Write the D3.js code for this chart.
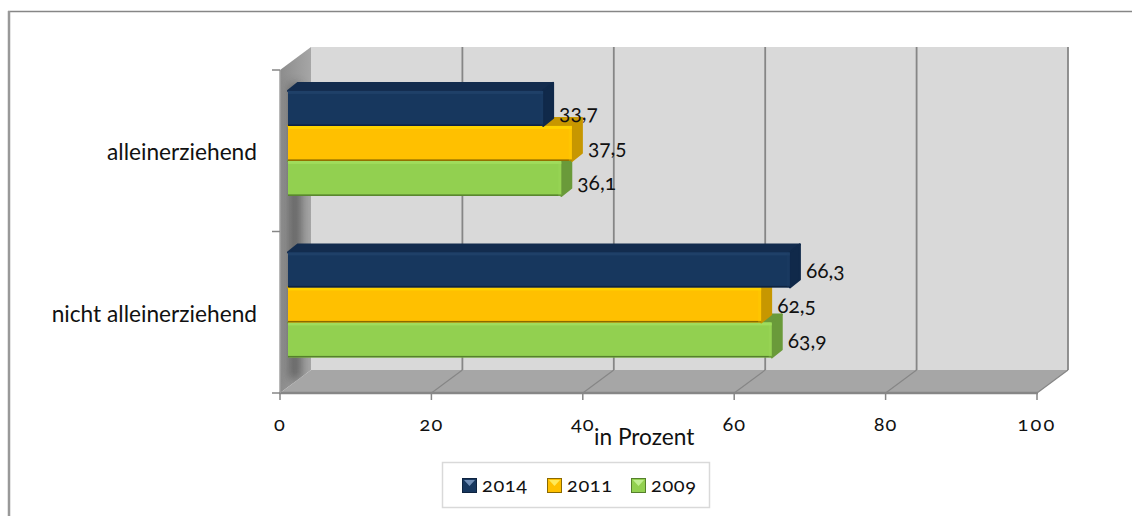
<!DOCTYPE html>
<html><head><meta charset="utf-8">
<script src="https://cdn.jsdelivr.net/npm/d3@7"></script>
<style>
html,body{margin:0;padding:0;background:#fff}
svg{display:block}
text{font-family:Lato,"Open Sans",sans-serif;fill:#111;font-feature-settings:"onum" 1}
</style></head><body><div id="c"></div>
<script>
const categories=["alleinerziehend","nicht alleinerziehend"];
const seriesNames=["2014","2011","2009"];
const v2014=[33.7,66.3];
const v2011=[37.5,62.5];
const v2009=[36.1,63.9];
const ticks=[0,20,40,60,80,100];
const values={"2014":v2014,"2011":v2011,"2009":v2009};
const fmt=v=>String(v.toFixed(1)).replace(".",",");
const colors={"2014":{m:"#17375e",lite:"#1f4068",tri:"#6f8db5",side:"#10294a",top:"#132c4e",edge:"#0e2340"},
"2011":{m:"#ffc000",lite:"#ffd200",tri:"#ffe95a",side:"#c79700",top:"#c79700",edge:"#8a6900"},
"2009":{m:"#92d050",lite:"#a0dc5c",tri:"#c0ee90",side:"#6a9a3a",top:"#6a9a3a",edge:"#55802c"}};
const W=1132,H=516;
const svg=d3.select("#c").append("svg").attr("width",W).attr("height",H);
const defs=svg.append("defs");
const blur=defs.append("filter").attr("id","b").attr("x","-150%").attr("width","400%").attr("y","-20%").attr("height","140%");
blur.append("feGaussianBlur").attr("stdDeviation",5);
const dx=31,dy=-23; // wall depth
const bx=8,by=-8,barD=10;
const x=d3.scaleLinear().domain([0,100]).range([280,1037]);
const yCat=d3.scaleBand().domain(categories).range([70,393]);
const yBar=d3.scaleBand().domain(seriesNames).range([0,yCat.bandwidth()]).paddingOuter(0.807).paddingInner(0).align(0.37);
const yTop=70,yBot=393;
// chart frame: only top and left edges are in view
svg.append("line").attr("x1",8).attr("x2",W).attr("y1",11.5).attr("y2",11.5).attr("stroke","#868686").attr("stroke-width",1.5);
svg.append("line").attr("x1",9).attr("x2",9).attr("y1",11).attr("y2",H).attr("stroke","#999").attr("stroke-width",2.5);
// back wall
svg.append("rect").attr("x",x(0)+dx).attr("y",yTop+dy).attr("width",x(100)-x(0)).attr("height",yBot-yTop).attr("fill","#d9d9d9");
// left wall
const lg=defs.append("linearGradient").attr("id","lw").attr("x1",0).attr("x2",1).attr("y1",0).attr("y2",0);
lg.append("stop").attr("offset",0).attr("stop-color","#8c8c8c");
lg.append("stop").attr("offset",1).attr("stop-color","#a6a6a6");
svg.append("path").attr("d",`M${x(0)},${yTop}L${x(0)+dx},${yTop+dy}V${yBot+dy}L${x(0)},${yBot}Z`).attr("fill","url(#lw)");
// floor
svg.append("path").attr("d",`M${x(0)},${yBot}L${x(0)+dx},${yBot+dy}H${x(100)+dx}L${x(100)},${yBot}Z`).attr("fill","#a6a6a6");
// shadow on the left wall
svg.append("clipPath").attr("id","lwc").append("path").attr("d",`M${x(0)},${yTop}L${x(0)+dx},${yTop+dy}V${yBot+dy}L${x(0)},${yBot}Z`);
const sg=svg.append("g").attr("clip-path","url(#lwc)");
sg.append("rect").attr("x",x(0)+9).attr("y",yTop+14).attr("width",12).attr("height",yBot-yTop-28).attr("fill","#4a4a4a").attr("filter","url(#b)").attr("opacity",.65);
// gridlines
ticks.forEach(t=>{
 if(t>0){
  svg.append("line").attr("x1",x(t)).attr("y1",yBot).attr("x2",x(t)+dx).attr("y2",yBot+dy).attr("stroke","#868686").attr("stroke-width",1.2);
  svg.append("line").attr("x1",x(t)+dx).attr("y1",yBot+dy).attr("x2",x(t)+dx).attr("y2",yTop+dy).attr("stroke","#868686").attr("stroke-width",1.8);
 }
});
// axes
svg.append("line").attr("x1",x(0)-1).attr("x2",x(100)+1).attr("y1",yBot).attr("y2",yBot).attr("stroke","#868686").attr("stroke-width",2.4);
svg.append("line").attr("x1",x(0)).attr("x2",x(0)).attr("y1",yTop).attr("y2",yBot).attr("stroke","#a0a0a0").attr("stroke-width",1.5);
ticks.forEach(t=>{
 svg.append("line").attr("x1",x(t)).attr("x2",x(t)).attr("y1",yBot).attr("y2",yBot+7).attr("stroke","#868686").attr("stroke-width",1.5);
 svg.append("text").attr("x",x(t)).attr("y",431).attr("text-anchor","middle").attr("font-size",20).attr("letter-spacing",t===100?2.2:1).text(t);
});
[yTop,yCat(categories[1]),yBot].forEach(y=>svg.append("line").attr("x1",272).attr("x2",x(0)).attr("y1",y).attr("y2",y).attr("stroke","#868686").attr("stroke-width",1.5));
categories.forEach(c=>svg.append("text").attr("x",257).attr("y",yCat(c)+yCat.bandwidth()/2+9.5).attr("text-anchor","end").attr("font-size",22.7).text(c));
// bars
categories.forEach((c,ci)=>{
 seriesNames.slice().reverse().forEach(s=>{
  const col=colors[s],val=values[s][ci];
  const y0=yCat(c)+yBar(s),h=yBar.bandwidth();
  const xl=x(0)+bx,xr=xl+(x(val)-x(0));
  const g=svg.append("g");
  g.append("path").attr("d",`M${xl},${y0}L${xl+barD},${y0+by}H${xr+barD}L${xr},${y0}Z`).attr("fill",col.top).attr("stroke",col.top).attr("stroke-linejoin","round").attr("stroke-width",2);
  g.append("path").attr("d",`M${xr},${y0}L${xr+barD},${y0+by}V${y0+h+by}L${xr},${y0+h}Z`).attr("fill",col.side).attr("stroke",col.side).attr("stroke-linejoin","round").attr("stroke-width",2);
  g.append("rect").attr("x",xl).attr("y",y0).attr("width",xr-xl).attr("height",h).attr("rx",1.5).attr("fill",col.m);
  g.append("rect").attr("x",xl).attr("y",y0).attr("width",xr-xl).attr("height",3).attr("fill",col.lite);
  g.append("rect").attr("x",xl).attr("y",y0+h-1.5).attr("width",xr-xl).attr("height",1.5).attr("fill",col.edge);
  g.append("rect").attr("x",xr-3).attr("y",y0).attr("width",3).attr("height",h).attr("fill",col.lite).attr("opacity",.3);
 });
});
// data labels
categories.forEach((c,ci)=>seriesNames.forEach(s=>{
 const val=values[s][ci];
 const y0=yCat(c)+yBar(s);
 svg.append("text").attr("x",x(0)+bx+x(val)-x(0)+barD+6).attr("y",y0+yBar.bandwidth()/2+(ci?8.5:12)).attr("font-size",21).text(fmt(val));
}));
svg.append("text").attr("x",594).attr("y",445).attr("font-size",22.7).text("in Prozent");
// legend
svg.append("rect").attr("x",442.5).attr("y",462.5).attr("width",267).attr("height",45).attr("fill","#fff").attr("stroke","#d9d9d9").attr("stroke-width",1.5);
const legX={"2014":462,"2011":547,"2009":631};
seriesNames.forEach(s=>{
 const col=colors[s],X=legX[s];
 svg.append("rect").attr("x",X+.5).attr("y",478.5).attr("width",14).attr("height",14).attr("fill",col.m).attr("stroke",col.edge);
 svg.append("path").attr("d",`M${X+2},${480}H${X+13}L${X+7.5},${486}Z`).attr("fill",col.tri);
 svg.append("text").attr("x",X+20).attr("y",492).attr("font-size",20).attr("letter-spacing",.6).text(s);
});
</script></body></html>
